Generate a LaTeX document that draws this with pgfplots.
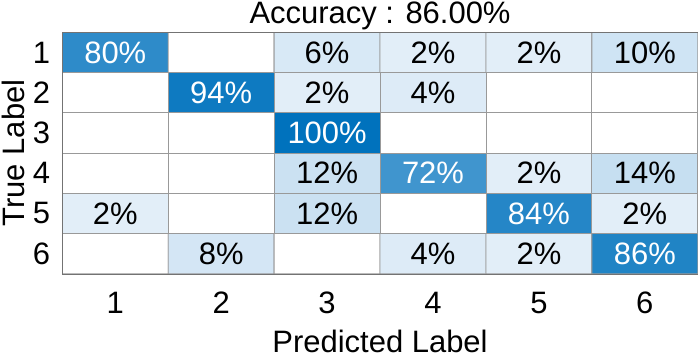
\documentclass[border=0pt]{standalone}
\usepackage{pgfplots}
\pgfplotsset{compat=1.18}
\usepackage{fontspec}
\setmainfont{Liberation Sans}
\begin{document}
\fontsize{30}{36}\selectfont
\begin{tikzpicture}
\begin{axis}[
  width=634bp, height=241bp, scale only axis,
  xmin=0.5, xmax=6.5, ymin=0.5, ymax=6.5, y dir=reverse,
  xtick={1,...,6}, ytick={1,...,6},
  major tick length=0pt,
  /pgf/number format/assume math mode=true,
  tick label style={font=\fontsize{31}{36}\selectfont},
  xticklabel style={yshift=-8pt},
  yticklabel style={xshift=-2pt},
  label style={font=\fontsize{31}{36}\selectfont, inner sep=2pt},
  xlabel={Predicted Label}, ylabel={True Label},
  xlabel style={yshift=-4pt},
  ylabel style={yshift=-4pt},
  title={Accuracy : 86.00\%},
  title style={font=\fontsize{31}{36}\selectfont, inner sep=2pt, yshift=-6pt},
  colormap={cm}{rgb255(0)=(255,255,255) rgb255(1)=(228,239,249) rgb255(100)=(0,114,189)},
  point meta min=0, point meta max=100,
  axis line style={draw=black!55},
  axis on top,
]
\addplot[matrix plot*, mesh/cols=6, point meta=explicit, draw=black!40, line width=0.8pt] table[meta=c] {
x y c
1 1 80
2 1 0
3 1 6
4 1 2
5 1 2
6 1 10
1 2 0
2 2 94
3 2 2
4 2 4
5 2 0
6 2 0
1 3 0
2 3 0
3 3 100
4 3 0
5 3 0
6 3 0
1 4 0
2 4 0
3 4 12
4 4 72
5 4 2
6 4 14
1 5 2
2 5 0
3 5 12
4 5 0
5 5 84
6 5 2
1 6 0
2 6 8
3 6 0
4 6 4
5 6 2
6 6 86
};
\addplot[only marks, mark=none, point meta=explicit symbolic,
  nodes near coords={\pgfplotspointmeta\%},
  nodes near coords style={anchor=center, text=black, font=\fontsize{31}{36}\selectfont}] table[meta=t] {
x y t
3 1 6
4 1 2
5 1 2
6 1 10
3 2 2
4 2 4
3 4 12
5 4 2
6 4 14
1 5 2
3 5 12
6 5 2
2 6 8
4 6 4
5 6 2
};
\addplot[only marks, mark=none, point meta=explicit symbolic,
  nodes near coords={\pgfplotspointmeta\%},
  nodes near coords style={anchor=center, text=white, font=\fontsize{31}{36}\selectfont}] table[meta=t] {
x y t
1 1 80
2 2 94
3 3 100
4 4 72
5 5 84
6 6 86
};
\end{axis}
\path (current bounding box.south) ++(0,-4pt) coordinate (extra);
\end{tikzpicture}
\end{document}
